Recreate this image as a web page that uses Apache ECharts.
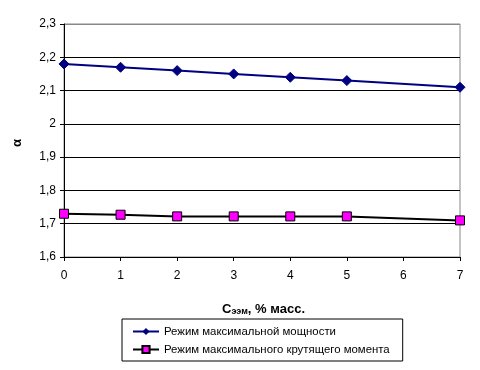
<!DOCTYPE html>
<html>
<head>
<meta charset="utf-8">
<script src="https://cdn.jsdelivr.net/npm/echarts@6/dist/echarts.min.js"></script>
<style>html,body{margin:0;padding:0;background:#fff}#c{width:480px;height:370px}</style>
</head>
<body>
<div id="c"></div>
<script>
var xValues = [0, 1, 2, 3, 4, 5, 7];
var seriesNames = ['Режим максимальной мощности', 'Режим максимального крутящего момента'];
var powerValues = [2.18, 2.17, 2.16, 2.15, 2.14, 2.13, 2.11];
var torqueValues = [1.73, 1.727, 1.722, 1.722, 1.722, 1.722, 1.71];
var yMin = 1.6, yMax = 2.3, yStep = 0.1;
var xMin = 0, xMax = 7, xStep = 1;

function pairs(xs, ys) { return xs.map(function (x, i) { return [x, ys[i]]; }); }
var font = 'Liberation Sans, Arial, sans-serif';

var chart = echarts.init(document.getElementById('c'), null, { renderer: 'canvas' });
chart.setOption({
  backgroundColor: '#fff',
  animation: false,
  grid: { left: 64, right: 20, top: 24, bottom: 113, show: true, borderColor: '#888', borderWidth: 1 },
  xAxis: {
    type: 'value', min: xMin, max: xMax, interval: xStep,
    axisLine: { show: true, onZero: false, lineStyle: { color: '#000', width: 1 } },
    axisTick: { show: true, length: 4, lineStyle: { color: '#000' } },
    axisLabel: { color: '#000', fontSize: 12, fontFamily: font, margin: 13 },
    splitLine: { show: false }
  },
  yAxis: {
    type: 'value', min: yMin, max: yMax, interval: yStep,
    axisLine: { show: true, lineStyle: { color: '#000', width: 1 } },
    axisTick: { show: true, length: 4, lineStyle: { color: '#000' } },
    axisLabel: { color: '#000', fontSize: 12, fontFamily: font, margin: 8,
      formatter: function (v) { return (Math.round(v * 10) / 10).toString().replace('.', ','); } },
    splitLine: { show: true, lineStyle: { color: ['#000', '#000', '#000', '#000', '#000', '#000', '#000', '#888'], width: 1 } }
  },
  legend: {
    orient: 'vertical', left: 122, top: 319,
    borderColor: '#000', borderWidth: 1, padding: [7, 13, 6, 10],
    itemWidth: 26, itemHeight: 9, itemGap: 7,
    textStyle: { fontSize: 11.4, fontFamily: font, color: '#000' },
    data: seriesNames
  },
  graphic: [
    { type: 'text', left: 222, top: 303, style: {
        rich: {
          c: { fontSize: 13, fontWeight: 'bold', fontFamily: font, fill: '#000' },
          s: { fontSize: 9, fontWeight: 'bold', fontFamily: font, fill: '#000', padding: [5, 0, 0, 0] }
        },
        text: '{c|C}{s|ээм}{c|, % масс.}'
      } },
    { type: 'text', x: 17, y: 143, rotation: Math.PI / 2, style: {
        text: 'α', fontSize: 13, fontWeight: 'bold', fontFamily: font, fill: '#000',
        textAlign: 'center', textVerticalAlign: 'middle' } }
  ],
  series: [
    { name: seriesNames[0], type: 'line', data: pairs(xValues, powerValues),
      symbol: 'diamond', symbolSize: 10,
      lineStyle: { color: '#000080', width: 2 },
      itemStyle: { color: '#000080', borderColor: '#000080' } },
    { name: seriesNames[1], type: 'line', data: pairs(xValues, torqueValues),
      symbol: 'rect', symbolSize: 9,
      lineStyle: { color: '#000', width: 2 },
      itemStyle: { color: '#FF00FF', borderColor: '#000', borderWidth: 1 } }
  ]
});
</script>
</body>
</html>
